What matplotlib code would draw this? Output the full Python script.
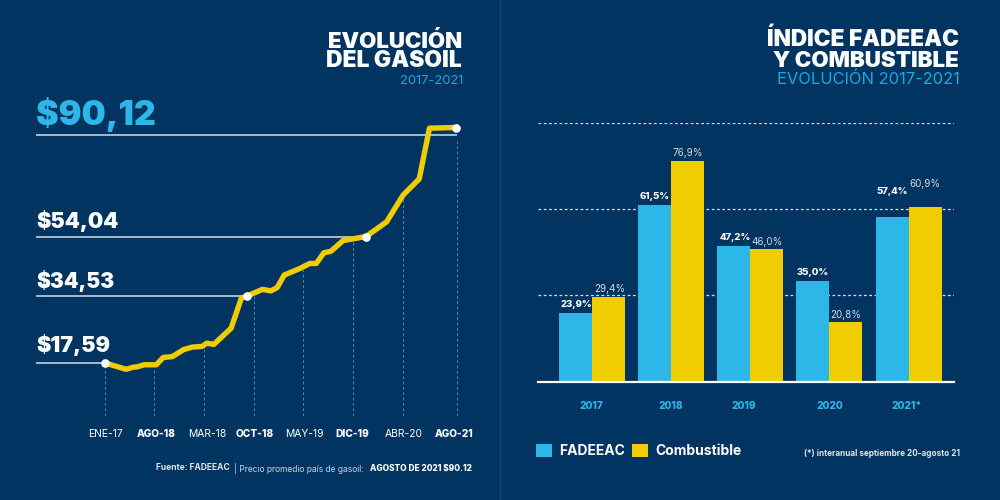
import numpy as np
from matplotlib import pyplot as plt
from matplotlib.patches import Rectangle

plt.rcParams['font.family'] = ['Inter', 'DejaVu Sans']

# datos gasoil
mes = [0, 3.3, 4.4, 5, 6.1, 8, 9.1, 10.5, 12.3, 13.6, 15.2, 15.9, 17, 19.7, 21.3, 22.2,
       24.6, 25.9, 26.9, 28, 30.5, 32, 33, 34.2, 35.3, 37.2, 40.8, 44, 46.6, 49.1, 50.7, 54.8]
precio = [17.59, 15.5, 16.2, 16.3, 17.0, 17.0, 19.0, 19.2, 21.0, 21.6, 21.8, 22.6, 22.3, 26.4, 34.0, 34.53,
          36.7, 36.2, 37.3, 41.4, 43.6, 45.2, 45.2, 48.7, 49.2, 52.7, 54.04, 58.9, 67.8, 73.1, 89.9, 90.12]
destacados = [17.59, 34.53, 54.04, 90.12]
destacados_mes = [0, 22.2, 40.8, 54.8]
destacados_txt = ['$17,59', '$34,53', '$54,04', '$90,12']
fechas = ['ENE-17', 'AGO-18', 'MAR-18', 'OCT-18', 'MAY-19', 'DIC-19', 'ABR-20', 'AGO-21']
guias_mes = [0, 7.7, 15.5, 23.3, 30.9, 38.75, 46.6, 55]
fechas_mes = [0, 8, 15.9, 23.4, 31.2, 38.6, 46.6, 54.5]

# datos indice
anios = ['2017', '2018', '2019', '2020', '2021*']
fadeeac = [23.9, 61.5, 47.2, 35.0, 57.4]
combustible = [29.4, 76.9, 46.0, 20.8, 60.9]

FONDO = '#013461'
CELESTE = '#2db7e8'
AMARILLO = '#efcd00'
W, H = 1000, 500

fig = plt.figure(figsize=(10, 5), dpi=100, facecolor=FONDO)


def eje(x0, x1, y_arriba, y_abajo):
    # ejes ubicados en pixeles
    a = fig.add_axes([x0 / W, 1 - y_abajo / H, (x1 - x0) / W, (y_abajo - y_arriba) / H])
    a.set_facecolor('none')
    for s in a.spines.values():
        s.set_visible(False)
    return a


def texto(x, y, s, **kw):
    kw.setdefault('va', 'center')
    kw.setdefault('color', 'white')
    return fig.text(x / W, 1 - y / H, s, **kw)


# separador central
fig.add_artist(Rectangle((0.4995, 0), 0.001, 1, transform=fig.transFigure, color='#114474'))

# --- gasoil ---
ax1 = eje(36, 458, 127.5, 416)
# la escala del original no es pareja, va por tramos
esc_v = [0, 17.59, 34.53, 54.04, 90.12]
esc_p = [0, 53, 120, 179.5, 288.5]
ax1.set_yscale('function', functions=(lambda v: np.interp(v, esc_v, esc_p),
                                      lambda p: np.interp(p, esc_p, esc_v)))
ax1.set_xlim(-10.8, 55.16)
ax1.set_ylim(0, 90.12)

# guias verticales punteadas
ax1.vlines(guias_mes, 0, np.minimum(np.interp(guias_mes, mes, precio), 86.5) - 1, color='#5a82a5',
           lw=0.7, linestyles=(0, (3, 2.5)), zorder=1)

# lineas de cada precio (la de 90,12 esta un poco mas abajo del punto)
niveles = [17.59, 34.53, 54.04, 87.7]
ax1.hlines(niveles, -10.8, destacados_mes[:3] + [55], color='#d6dee7', lw=1.1, zorder=2)

ax1.plot(mes, precio, color=AMARILLO, lw=3.9, solid_joinstyle='round', zorder=3, clip_on=False)
ax1.plot(destacados_mes, destacados, 'o', color='white', ms=6.2, mew=0, zorder=4, clip_on=False)

ax1.set_yticks([])
ax1.set_xticks(fechas_mes)
ax1.set_xticklabels(fechas, fontsize=7.4, color='white')
ax1.tick_params(axis='x', length=0, pad=9.5)
for i, lab in enumerate(ax1.get_xticklabels()):
    if i % 2 == 1:
        lab.set_fontweight(800)
        lab.set_fontsize(7.3)

texto(462, 48, 'EVOLUCIÓN', ha='right', va='baseline', fontsize=16, fontweight=900)
texto(462, 67, 'DEL GASOIL', ha='right', va='baseline', fontsize=16.4, fontweight=900)
texto(463, 84, '2017-2021', ha='right', va='baseline', fontsize=9.3, color='#1fa8dc')

texto(36, 115, destacados_txt[3], fontsize=24.5, fontweight=900, color=CELESTE)
texto(36, 221, destacados_txt[2], fontsize=15.5, fontweight=900)
texto(36, 281, destacados_txt[1], fontsize=15, fontweight=900)
texto(36, 345, destacados_txt[0], fontsize=15.5, fontweight=900)

texto(156, 468, 'Fuente: FADEEAC', fontsize=6.1, fontweight=700, color='#dfe6ee')
texto(234, 468, '| Precio promedio país de gasoil:', fontsize=6.1, color='#c9d4e0')
texto(472, 468, 'AGOSTO DE 2021 $90.12', ha='right', fontsize=6.0, fontweight=800)

# --- indice ---
ax2 = eje(538, 954, 123.2, 381.5)
x = np.arange(len(anios))
ancho = 0.416
ax2.set_xlim(-0.678, 4.572)
ax2.set_ylim(0, 90)
ax2.yaxis.grid(True, color='white', lw=0.9, linestyle=(0, (2.2, 2)), alpha=0.85)
ax2.set_axisbelow(True)
b1 = ax2.bar(x - ancho / 2, fadeeac, ancho, color=CELESTE, label='FADEEAC', zorder=2)
b2 = ax2.bar(x + ancho / 2, combustible, ancho, color=AMARILLO, label='Combustible', zorder=2)
ax2.set_yticks([30, 60, 90])
ax2.tick_params(axis='y', length=0, labelleft=False)
ax2.spines['bottom'].set_visible(True)
ax2.spines['bottom'].set_color('white')
ax2.spines['bottom'].set_linewidth(1.6)
ax2.spines['bottom'].set_zorder(3)

# las etiquetas de anio no estan del todo centradas en el original
ax2.set_xticks([0, 1, 1.92, 3, 3.98])
ax2.set_xticklabels(anios, fontsize=7.3, fontweight=800, color=CELESTE)
ax2.tick_params(axis='x', length=0, pad=14)

# etiquetas de valor, corridas a mano como en la imagen
dx_f = [-0.2, -0.21, -0.19, -0.21, -0.21]
dy_f = [3.0, 2.9, 3.0, 2.9, 8.8]
dx_c = [0.23, 0.21, 0.21, 0.2, 0.21]
dy_c = [2.7, 2.6, 2.6, 2.5, 8.0]
for i in range(len(anios)):
    ax2.text(x[i] + dx_f[i], fadeeac[i] + dy_f[i], ('%.1f%%' % fadeeac[i]).replace('.', ','),
             ha='center', va='center', fontsize=6.9, fontweight=800, color='white')
    ax2.text(x[i] + dx_c[i], combustible[i] + dy_c[i], ('%.1f%%' % combustible[i]).replace('.', ','),
             ha='center', va='center', fontsize=7.1, color='#d0dae5')

texto(959, 46.5, 'ÍNDICE FADEEAC', ha='right', va='baseline', fontsize=16.3, fontweight=900)
texto(959, 67, 'Y COMBUSTIBLE', ha='right', va='baseline', fontsize=16.1, fontweight=900)
texto(960, 84, 'EVOLUCIÓN 2017-2021', ha='right', va='baseline', fontsize=11.9, color='#1fa8dc')

fig.legend(handles=[b1, b2], loc='center left', bbox_to_anchor=(0.536, 1 - 451 / H), ncol=2, frameon=False,
           labelcolor='white', prop={'family': 'Inter', 'weight': 700, 'size': 10},
           handlelength=1.15, handleheight=1.15, handletextpad=0.55, columnspacing=0.45, borderpad=0, borderaxespad=0)
texto(960, 454, '(*) interanual septiembre 20-agosto 21', ha='right', fontsize=5.9, fontweight=700, color='#dfe6ee')

plt.savefig('out.png', facecolor=FONDO)
